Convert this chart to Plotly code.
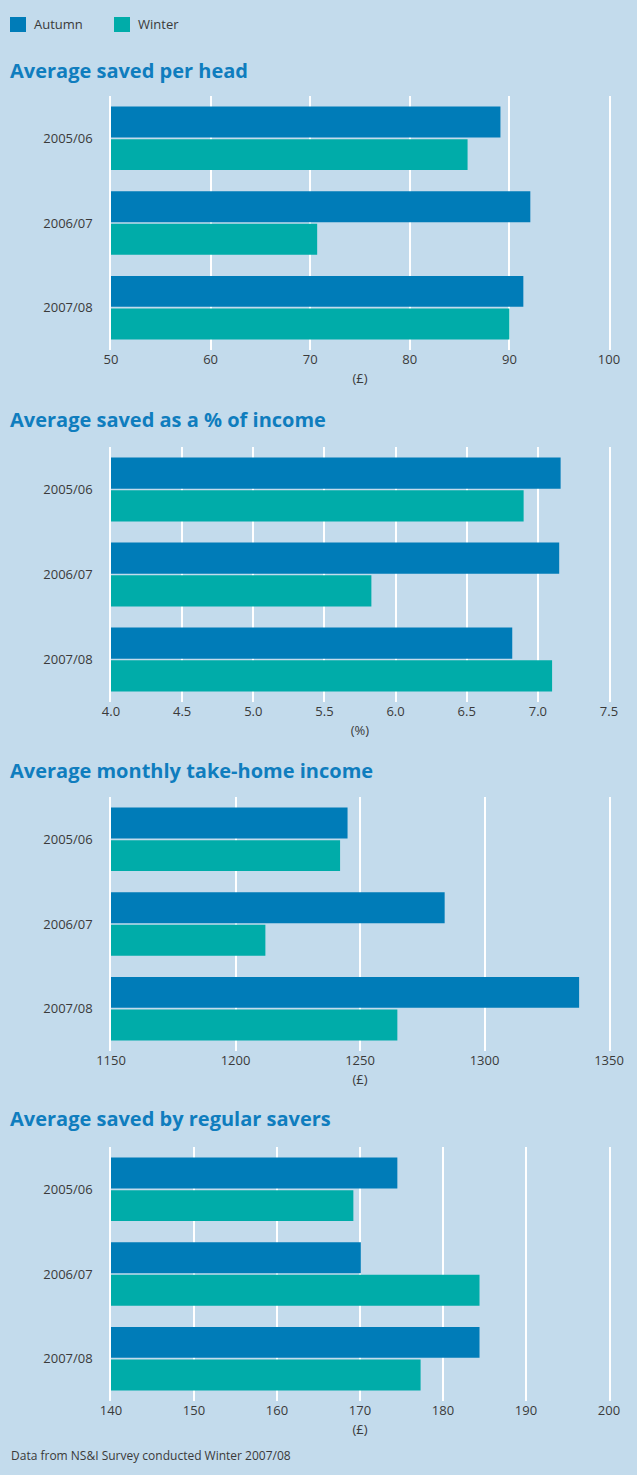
import plotly.graph_objects as go

# Survey periods and series
years = ["2005/06", "2006/07", "2007/08"]
series_names = ["Autumn", "Winter"]

per_head_autumn = [89.1, 92.1, 91.4]
per_head_winter = [85.8, 70.7, 90.0]

pct_income_autumn = [7.16, 7.15, 6.82]
pct_income_winter = [6.90, 5.83, 7.10]

income_autumn = [1245, 1284, 1338]
income_winter = [1242, 1212, 1265]

regular_autumn = [174.5, 170.1, 184.4]
regular_winter = [169.2, 184.4, 177.3]

panel_titles = [
    "Average saved per head",
    "Average saved as a % of income",
    "Average monthly take-home income",
    "Average saved by regular savers",
]
axis_units = ["(£)", "(%)", "(£)", "(£)"]
x_ranges = [[50, 100], [4.0, 7.5], [1150, 1350], [140, 200]]
x_ticks = [
    [50, 60, 70, 80, 90, 100],
    [4.0, 4.5, 5.0, 5.5, 6.0, 6.5, 7.0, 7.5],
    [1150, 1200, 1250, 1300, 1350],
    [140, 150, 160, 170, 180, 190, 200],
]
x_ticktext = [
    ["50", "60", "70", "80", "90", "100"],
    ["4.0", "4.5", "5.0", "5.5", "6.0", "6.5", "7.0", "7.5"],
    ["1150", "1200", "1250", "1300", "1350"],
    ["140", "150", "160", "170", "180", "190", "200"],
]
autumn_series = [per_head_autumn, pct_income_autumn, income_autumn, regular_autumn]
winter_series = [per_head_winter, pct_income_winter, income_winter, regular_winter]

W, H = 637, 1475
BG = "#c3dbec"
AUTUMN = "#007cb8"
WINTER = "#00aca9"
TITLE = "#0f7dbe"
TEXT = "#3a3a3a"
FONT = "Open Sans"

# pixel layout of each panel (top, bottom) and title centre line
panel_px = [(96, 350), (447, 702), (797, 1051), (1147, 1401)]
title_px = [70, 420, 770, 1118]
plot_left, plot_right = 111, 609


def px_x(x):
    return x / W


def px_y(y):
    return 1 - y / H


fig = go.Figure()
layout = {}
annotations = []
shapes = []

for i in range(4):
    n = "" if i == 0 else str(i + 1)
    xa, ya = "x" + n, "y" + n
    fig.add_trace(go.Bar(
        y=years, x=autumn_series[i], orientation="h",
        name=series_names[0], marker=dict(color=AUTUMN, line=dict(width=0)),
        xaxis=xa, yaxis=ya, showlegend=False,
    ))
    fig.add_trace(go.Bar(
        y=years, x=winter_series[i], orientation="h",
        name=series_names[1], marker=dict(color=WINTER, line=dict(width=0)),
        xaxis=xa, yaxis=ya, showlegend=False,
    ))
    top, bottom = panel_px[i]
    layout["xaxis" + n] = dict(
        domain=[px_x(plot_left), px_x(plot_right)],
        range=x_ranges[i], anchor=ya, automargin=False,
        tickmode="array", tickvals=x_ticks[i], ticktext=x_ticktext[i],
        showgrid=True, gridcolor="white", gridwidth=1.5,
        zeroline=False, showline=False, ticks="",
        tickfont=dict(family=FONT, size=13, color=TEXT),
        title=dict(text=axis_units[i], standoff=6,
                   font=dict(family=FONT, size=13, color=TEXT)),
    )
    # the white axis line is mirrored so both range ends carry a rule
    layout["yaxis" + n] = dict(
        domain=[px_y(bottom), px_y(top)], anchor=xa, automargin=False,
        type="category", categoryorder="array", categoryarray=years,
        range=[2.5, -0.5],
        showgrid=False, zeroline=False,
        showline=True, mirror=True, linecolor="white", linewidth=1.5,
        ticks="", ticklabelstandoff=14,
        tickfont=dict(family=FONT, size=13, color=TEXT),
    )
    annotations.append(dict(
        text="<b>" + panel_titles[i] + "</b>", xref="paper", yref="paper",
        x=px_x(8), y=px_y(title_px[i]), xanchor="left", yanchor="middle",
        showarrow=False, font=dict(family=FONT, size=20, color=TITLE),
    ))

# key: coloured squares with series names
key_items = [(series_names[0], AUTUMN, 10), (series_names[1], WINTER, 114)]
for name, color, x0 in key_items:
    shapes.append(dict(
        type="rect", xref="paper", yref="paper",
        x0=px_x(x0), x1=px_x(x0 + 16), y0=px_y(32), y1=px_y(17),
        fillcolor=color, line=dict(width=0),
    ))
    annotations.append(dict(
        text=name, xref="paper", yref="paper",
        x=px_x(x0 + 22), y=px_y(24.5), xanchor="left", yanchor="middle",
        showarrow=False, font=dict(family=FONT, size=13, color=TEXT),
    ))

annotations.append(dict(
    text="Data from NS&I Survey conducted Winter 2007/08",
    xref="paper", yref="paper", x=px_x(9), y=px_y(1455),
    xanchor="left", yanchor="middle", showarrow=False,
    font=dict(family=FONT, size=12, color=TEXT),
))

fig.update_layout(
    width=W, height=H,
    margin=dict(l=0, r=0, t=0, b=0, autoexpand=False),
    paper_bgcolor=BG, plot_bgcolor=BG,
    barmode="group", bargap=0.23, bargroupgap=0.05,
    annotations=annotations, shapes=shapes,
    showlegend=False,
    **layout,
)

fig.write_html("out.html")
